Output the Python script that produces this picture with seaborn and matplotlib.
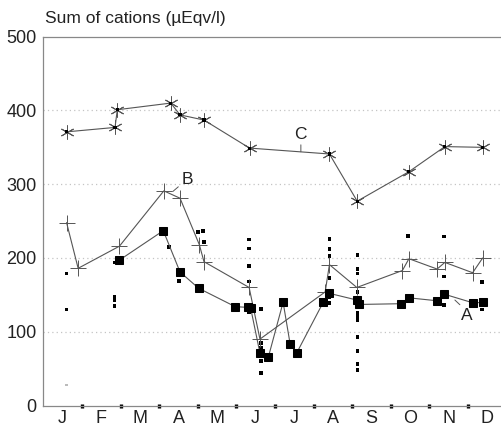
import matplotlib
matplotlib.use("Agg")
import matplotlib.pyplot as plt
import seaborn as sns
import pandas as pd

# ---- data (month position: 0 = 1 Jan, 12 = 31 Dec) ----
month_labels = ["J", "F", "M", "A", "M", "J", "J", "A", "S", "O", "N", "D"]
y_ticks = [0, 100, 200, 300, 400, 500]

c_month = [0.60, 1.855, 1.915, 3.30, 3.54, 4.16, 5.34, 7.41, 8.13, 9.47, 10.40, 11.38]
c_value = [371, 377, 401, 410, 394, 387, 349, 341, 277, 317, 351, 350]

b_month = [0.60, 0.90, 1.97, 3.12, 3.54, 4.04, 4.16, 5.33, 5.61, 7.30, 7.41, 8.12,
           9.30, 9.47, 10.20, 10.40, 11.12, 11.38]
b_value = [248, 186, 216, 291, 281, 218, 195, 160, 90, 154, 191, 160,
           183, 199, 185, 194, 180, 200]

a_month = [1.966, 3.106, 3.54, 4.02, 4.97, 5.31, 5.37, 5.61, 5.83, 6.21, 6.39, 6.56,
           7.25, 7.41, 8.12, 8.18, 9.26, 9.46, 10.20, 10.38, 11.14, 11.40]
a_value = [197, 237, 181, 159, 134, 133, 132, 71, 66, 140, 84, 71,
           140, 152, 143, 137, 138, 146, 142, 151, 139, 140]

dot_month = [0.60, 0.60,
             1.855, 1.84, 1.84, 1.84,
             3.25, 3.52, 4.01, 4.14, 4.16,
             5.33, 5.33, 5.33, 5.33, 5.33,
             5.63, 5.63, 5.63, 5.63, 5.63,
             7.41, 7.41, 7.41, 7.41, 7.41, 7.41, 7.41,
             8.14, 8.14, 8.14, 8.14, 8.14, 8.14, 8.14, 8.14, 8.14, 8.14, 8.14,
             9.45, 10.38, 10.38, 10.38, 11.37, 11.37]
dot_value = [179, 130,
             194, 147, 143, 135,
             215, 169, 235, 237, 222,
             225, 213, 189, 168, 126,
             131, 85, 78, 60, 44,
             226, 212, 203, 173, 152, 147, 139,
             204, 185, 179, 154, 125, 121, 116, 93, 74, 56, 48,
             230, 229, 175, 136, 167, 130]

# one faint, barely printed measurement
faint_month = [0.60]
faint_value = [28]

df_a = pd.DataFrame({"month": a_month, "value": a_value})
df_b = pd.DataFrame({"month": b_month, "value": b_value})
df_c = pd.DataFrame({"month": c_month, "value": c_value})
df_d = pd.DataFrame({"month": dot_month, "value": dot_value})
df_f = pd.DataFrame({"month": faint_month, "value": faint_value})

# ---- style ----
sns.set_style("white")
plt.rcParams["font.family"] = ["Liberation Sans", "DejaVu Sans"]

fig = plt.figure(figsize=(5.02, 4.30), dpi=100)
ax = fig.add_axes([43.4 / 502, 24.5 / 430, 1 - 43.4 / 502, (405.5 - 36.7) / 430])

line_col = "#555555"

sns.scatterplot(data=df_d, x="month", y="value", ax=ax, marker="s", s=7,
                color="black", edgecolor="none", zorder=3, legend=False)
sns.scatterplot(data=df_f, x="month", y="value", ax=ax, marker="s", s=3,
                color="#bbbbbb", edgecolor="none", zorder=3, legend=False)

sns.lineplot(data=df_c, x="month", y="value", ax=ax, sort=False, estimator=None,
             color=line_col, linewidth=0.8, marker=(6, 2, 0), markersize=10,
             markeredgewidth=0.7, markeredgecolor="#555555", zorder=4)
sns.scatterplot(data=df_c, x="month", y="value", ax=ax, marker="s", s=5,
                color="black", edgecolor="none", zorder=5, legend=False)

sns.lineplot(data=df_b, x="month", y="value", ax=ax, sort=False, estimator=None,
             color=line_col, linewidth=0.8, marker="+", markersize=11,
             markeredgewidth=0.7, markeredgecolor="#555555", zorder=4)

sns.lineplot(data=df_a, x="month", y="value", ax=ax, sort=False, estimator=None,
             color=line_col, linewidth=0.8, marker="s", markersize=6,
             markerfacecolor="black", markeredgecolor="black", zorder=4)

# ---- axes ----
ax.set_xlim(0, (502 - 43.4) / 38.6)
ax.set_ylim(0, 500)
ax.set_yticks(y_ticks)
ax.set_yticklabels([str(v) for v in y_ticks], fontsize=13, color="#222222")
ax.tick_params(axis="y", left=False, length=0, pad=5)

ax.set_xticks(range(1, 12))
ax.set_xticklabels([])
ax.tick_params(axis="x", which="major", bottom=True, direction="inout",
               length=2.4, width=2.4, color="black")
ax.set_xticks([i + 0.5 for i in range(12)], minor=True)
ax.set_xticklabels(month_labels, minor=True, fontsize=13, color="#222222")
ax.tick_params(axis="x", which="minor", bottom=True, length=0, pad=3)

ax.set_xlabel("")
ax.set_ylabel("")
ax.grid(False)
for v in y_ticks[1:-1]:
    ax.axhline(v, color="#c4c4c4", linestyle=(0, (1, 2.5)), linewidth=0.9, zorder=1)

for side in ["left", "top", "bottom"]:
    ax.spines[side].set_color("#888888")
    ax.spines[side].set_linewidth(0.9)
ax.spines["right"].set_visible(False)

fig.text(45 / 502, 1 - 18 / 430, "Sum of cations (µEqv/l)", fontsize=12.5,
         color="#222222", ha="left", va="center")

# series labels with leader lines
arrow = dict(arrowstyle="-", color="#555555", linewidth=0.7, shrinkA=0, shrinkB=0)
ax.annotate("B", xy=(3.35, 290), xytext=(3.58, 307), fontsize=12.5,
            ha="left", va="center", arrowprops=arrow, color="#222222")
ax.annotate("C", xy=(6.67, 344), xytext=(6.67, 368), fontsize=12.5,
            ha="center", va="center", arrowprops=dict(arrow, relpos=(0.5, 0)),
            color="#222222")
ax.annotate("A", xy=(10.66, 143), xytext=(10.97, 122), fontsize=12.5,
            ha="center", va="center", arrowprops=dict(arrow, relpos=(0.2, 1)),
            color="#222222")

fig.savefig("out.png", dpi=100)
